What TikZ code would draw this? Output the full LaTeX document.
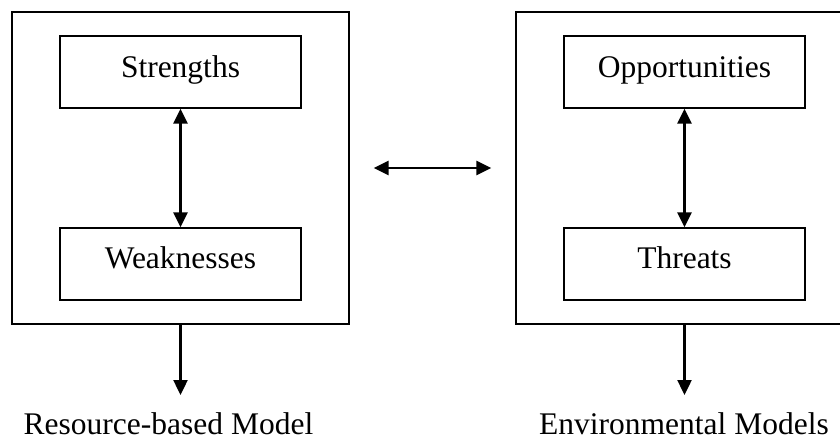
\documentclass[tikz,border=0pt]{standalone}
\usepackage{fontspec}
\setmainfont{Liberation Serif}
\usetikzlibrary{arrows.meta}
\begin{document}
\begin{tikzpicture}[x=1pt,y=-1pt,
  outerbox/.style={draw, line width=1.3pt, inner sep=0pt, minimum width=337pt, minimum height=312pt},
  innerbox/.style={draw, line width=1.3pt, inner sep=0pt, minimum width=241pt, minimum height=72pt},
  lbl/.style={font=\fontsize{31.5}{36}\selectfont, inner sep=0pt, text depth=0pt, anchor=base},
  arr/.style={line width=2.4pt, -{Triangle[length=15pt,width=14pt]}},
  darr/.style={line width=2.4pt, {Triangle[length=15pt,width=14pt]}-{Triangle[length=15pt,width=14pt]}}]
\useasboundingbox (0,0) rectangle (840,440);
\begin{scope}
\clip (0,0) rectangle (840,440);
% resource side
\node[outerbox] (L) at (180.5,168) {};
\node[innerbox] (S) at (180.5,72) {};
\node[innerbox] (W) at (180.5,264) {};
\node[lbl] (St) at (180.5,77) {Strengths};
\node[lbl] (Wt) at (180.5,268) {Weaknesses};
% environment side
\node[outerbox] (R) at (684.5,168) {};
\node[innerbox] (O) at (684.5,72) {};
\node[innerbox] (T) at (684.5,264) {};
\node[lbl] (Ot) at (684.5,77) {Opportunities};
\node[lbl] (Tt) at (684.5,268) {Threats};
\end{scope}
% connectors
\draw[darr] (S.south) -- (W.north);
\draw[darr] (O.south) -- (T.north);
\draw[darr, shorten <=24pt, shorten >=24pt] (L.east) -- (R.west);
\coordinate (Lend) at (180.5,395);
\coordinate (Rend) at (684.5,395);
\draw[arr] (L.south) -- (Lend);
\draw[arr] (R.south) -- (Rend);
% outcome labels
\node[lbl] (Lm) at (168.5,434.5) {Resource-based Model};
\node[lbl] (Rm) at (684,434.5) {Environmental Models};
\end{tikzpicture}
\end{document}
